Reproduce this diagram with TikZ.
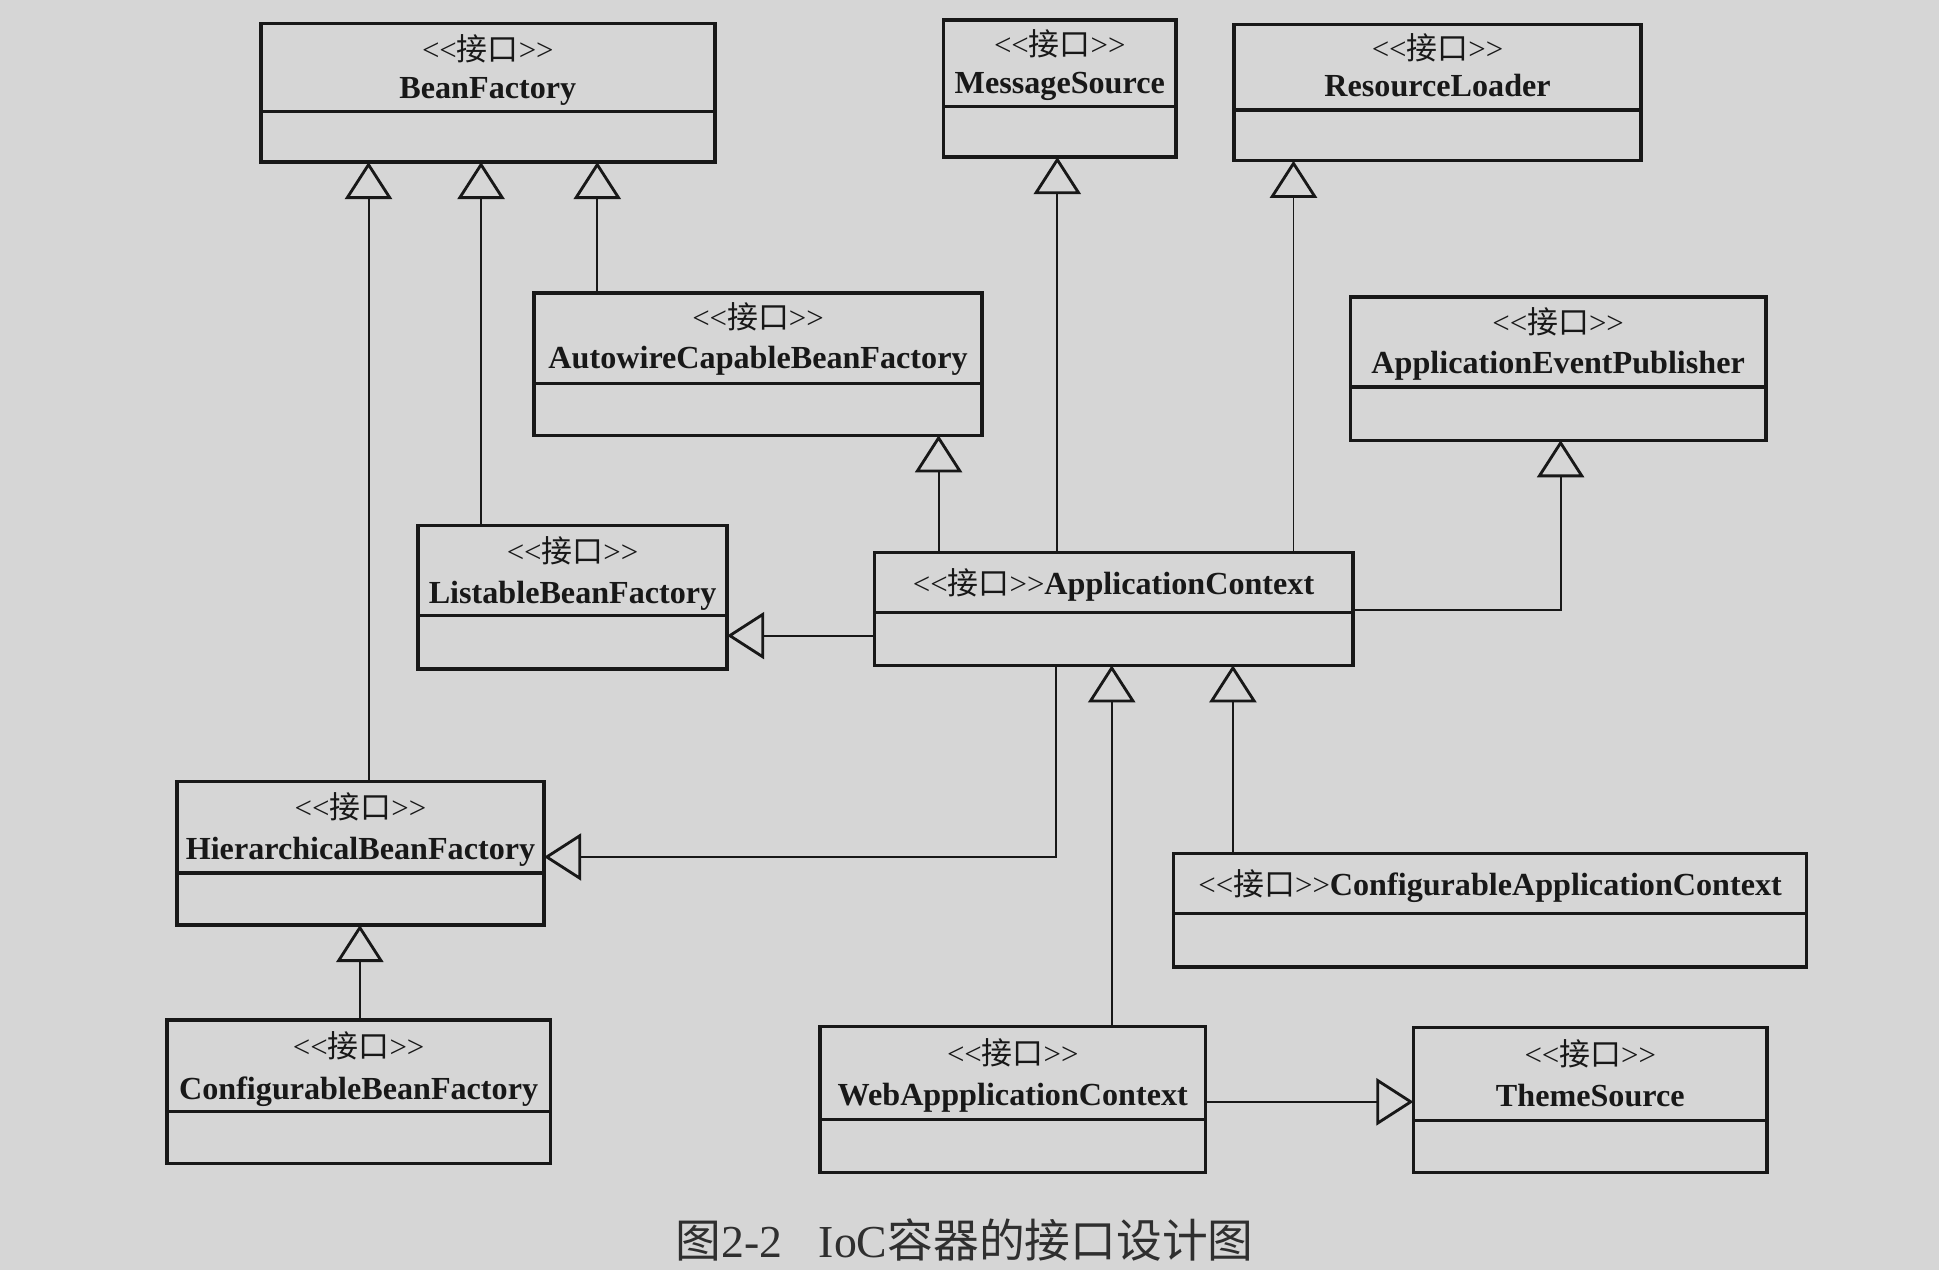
\documentclass[tikz,border=0pt]{standalone}
\usepackage{fontspec}
\setmainfont{Liberation Serif}
\newfontfamily\cjk{Noto Sans CJK SC}
\newfontfamily\chev{Liberation Serif}
\usetikzlibrary{arrows.meta}
\definecolor{paper}{RGB}{214,214,214}
\definecolor{ink}{RGB}{24,24,24}
\newcommand\stereo{{\chev<\kern0pt<}{\cjk 接口}{\chev>\kern0pt>}}
\tikzset{
  umlbox/.style={draw=ink, line width=2.8pt, inner sep=0pt, outer sep=0pt, rectangle},
  divline/.style={draw=ink, line width=2.6pt},
  stxt/.style={font=\fontsize{25}{25}\selectfont, text=ink, inner sep=0pt, anchor=base},
  ntxt/.style={font=\fontsize{26}{26}\selectfont\bfseries, text=ink, inner sep=0pt, anchor=base},
  gen/.style={draw=ink, line width=1.6pt, -{Triangle[open, length=30pt, width=38pt, line width=2.3pt]}},
}
% name, x1, y1, x2, y2, divider y, stereo y, name y, name text
\newcommand\classbox[9]{%
  \node[umlbox, minimum width={(#4-#2)*1pt}, minimum height={(#5-#3)*1pt}] (#1) at ({(#2+#4)/2},{(#3+#5)/2}) {};
  \draw[divline] (#2,#6) -- (#4,#6);
  \node[stxt] (#1-s) at ({(#2+#4)/2},#7+9) {\stereo};
  \node[ntxt] (#1-n) at ({(#2+#4)/2},#8+8) {#9};
}
% name, x1, y1, x2, y2, divider y, text y, name text
\newcommand\classboxone[8]{%
  \node[umlbox, minimum width={(#4-#2)*1pt}, minimum height={(#5-#3)*1pt}] (#1) at ({(#2+#4)/2},{(#3+#5)/2}) {};
  \draw[divline] (#2,#6) -- (#4,#6);
  \node[ntxt] (#1-n) at ({(#2+#4)/2},#7+9) {{\mdseries\fontsize{25}{25}\selectfont\stereo}#8};
}
\begin{document}
\begin{tikzpicture}[x=1pt, y=-1pt]
\fill[paper] (0,0) rectangle (1568,1027);
\useasboundingbox (0,0) rectangle (1568,1027);

\classbox{bf}{211}{19}{578}{131}{90}{40}{72}{BeanFactory}
\classbox{ms}{763}{16}{951}{127}{86}{36}{68}{MessageSource}
\classbox{rl}{998}{20}{1327}{130}{89}{39}{70}{ResourceLoader}
\classbox{acbf}{432}{237}{794}{352}{310}{257}{290}{AutowireCapableBeanFactory}
\classbox{aep}{1092}{240}{1428}{356}{313}{261}{294}{ApplicationEventPublisher}
\classbox{lbf}{338}{425}{588}{541}{498}{446}{480}{ListableBeanFactory}
\classbox{hbf}{143}{632}{440}{748}{706}{653}{687}{HierarchicalBeanFactory}
\classbox{cbf}{135}{825}{445}{941}{899}{846}{881}{ConfigurableBeanFactory}
\classbox{wac}{663}{830}{975}{948}{905}{852}{886}{WebAppplicationContext}
\classbox{ts}{1143}{831}{1429}{948}{906}{853}{887}{ThemeSource}
\classboxone{ac}{707}{447}{1094}{538}{495}{472}{ApplicationContext}
\classboxone{cac}{949}{690}{1461}{782}{739}{715}{ConfigurableApplicationContext}

% generalizations
\draw[gen] (hbf.north -| 298,0) -- (bf.south -| 298,0);
\draw[gen] (lbf.north -| 389,0) -- (bf.south -| 389,0);
\draw[gen] (acbf.north -| 483,0) -- (bf.south -| 483,0);
\draw[gen] (ac.north -| 759,0) -- (acbf.south -| 759,0);
\draw[gen] (ac.north -| 855,0) -- (ms.south -| 855,0);
\draw[gen] (ac.north -| 1046,0) -- (rl.south -| 1046,0);
\draw[gen] (ac.east |- 0,493) -| (aep.south -| 1262,0);
\draw[gen] (ac.west |- 0,514) -- (lbf.east |- 0,514);
\draw[gen] (ac.south -| 854,0) |- (hbf.east |- 0,693);
\draw[gen] (cac.north -| 997,0) -- (ac.south -| 997,0);
\draw[gen] (wac.north -| 899,0) -- (ac.south -| 899,0);
\draw[gen] (cbf.north -| 291,0) -- (hbf.south -| 291,0);
\draw[gen] (wac.east |- 0,891) -- (ts.west |- 0,891);

\node[font=\fontsize{37}{37}\selectfont, text=ink!90, inner sep=0pt] (cap) at (780,1003)
  {{\cjk 图}2-2\hspace{0.8em}IoC{\cjk 容器的接口设计图}};
\end{tikzpicture}
\end{document}
